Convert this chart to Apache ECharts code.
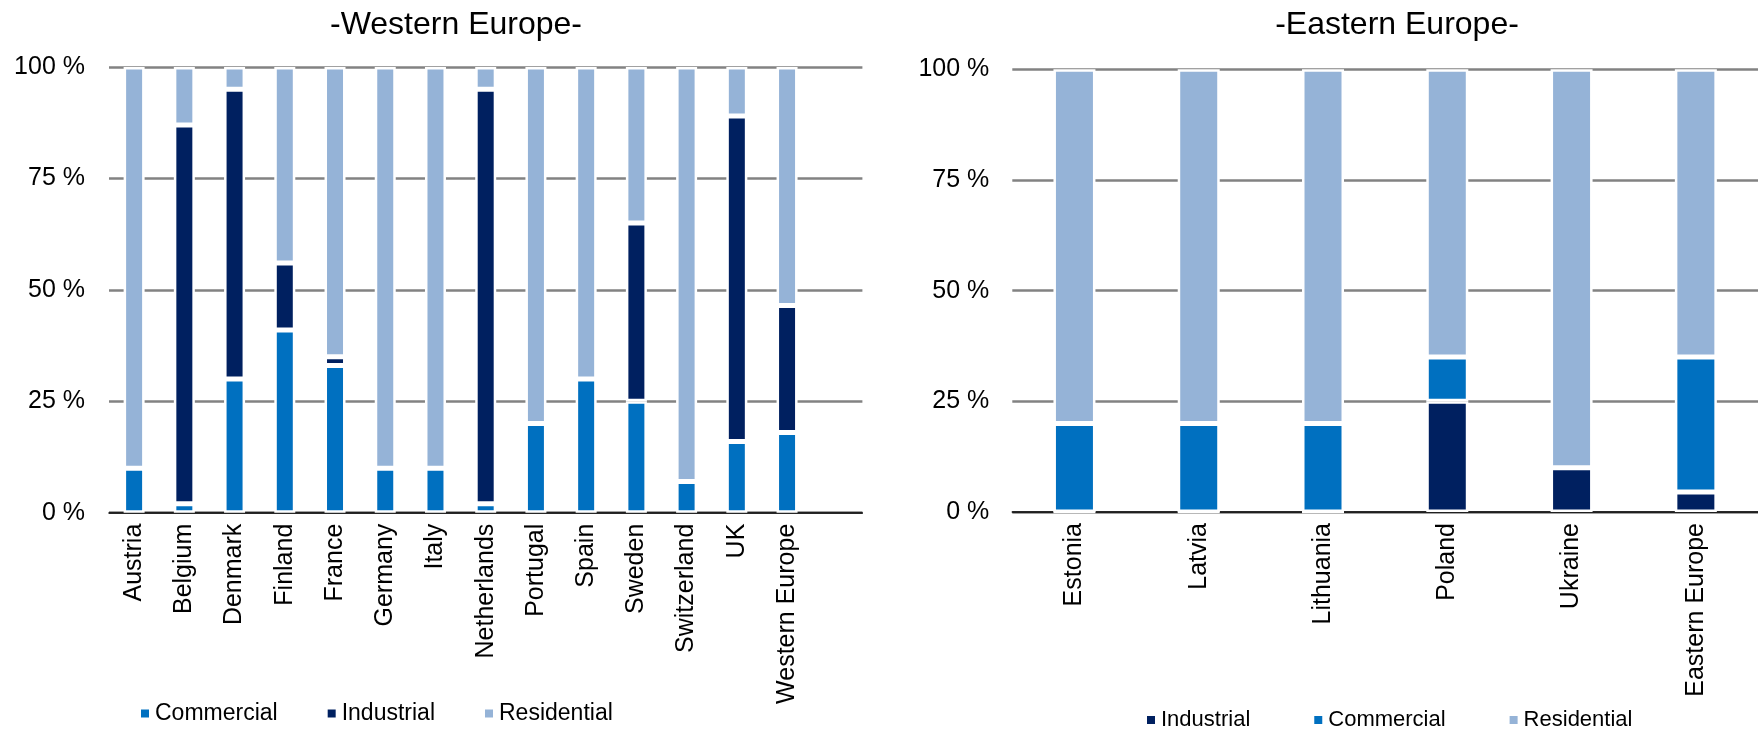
<!DOCTYPE html>
<html>
<head>
<meta charset="utf-8">
<script src="https://cdn.jsdelivr.net/npm/echarts@6/dist/echarts.min.js"></script>
<style>
html,body{margin:0;padding:0;background:#fff;}
#chart{width:1758px;height:730px;}
</style>
</head>
<body>
<div id="chart"></div>
<script>
// ---- Data ----
const westCategories = ['Austria','Belgium','Denmark','Finland','France','Germany','Italy','Netherlands','Portugal','Spain','Sweden','Switzerland','UK','Western Europe',''];
const westCommercial  = [10, 2, 30, 41, 33, 10, 10, 2, 20, 30, 25, 7, 16, 18, null];
const westIndustrial  = [0, 85, 65, 15, 2, 0, 0, 93, 0, 0, 40, 0, 73, 28.5, null];
const westResidential = [90, 13, 5, 44, 65, 90, 90, 5, 80, 70, 35, 93, 11, 53.5, null];

const eastCategories = ['Estonia','Latvia','Lithuania','Poland','Ukraine','Eastern Europe'];
const eastIndustrial  = [0, 0, 0, 25, 10, 4.5];
const eastCommercial  = [20, 20, 20, 10, 0, 30.5];
const eastResidential = [80, 80, 80, 65, 90, 65];

const yTicks = [0, 25, 50, 75, 100];
const westTitle = '-Western Europe-';
const eastTitle = '-Eastern Europe-';

// ---- Styles ----
const C_COM = '#0070C0', C_IND = '#002060', C_RES = '#95B3D7';
const FONT = "'Liberation Sans', Arial, sans-serif";

const chart = echarts.init(document.getElementById('chart'), null, {renderer:'canvas'});

function yAxis(gridIndex, margin){
  return {
    type:'value', gridIndex, min:yTicks[0], max:yTicks[yTicks.length-1], interval:25,
    axisLine:{show:false}, axisTick:{show:false},
    axisLabel:{formatter:'{value} %', color:'#000', fontSize:25, fontFamily:FONT, margin},
    splitLine:{show:true, lineStyle:{color:'#828282', width:2.5}}
  };
}
function xAxis(gridIndex, data){
  return {
    type:'category', gridIndex, data,
    axisLine:{show:true, lineStyle:{color:'#000', width:1.5}},
    axisTick:{show:false},
    axisLabel:{rotate:90, color:'#000', fontSize:25, fontFamily:FONT, margin:11, interval:0}
  };
}
function bar(name, data, xi, stack, color, width){
  return {
    name, type:'bar', data, xAxisIndex:xi, yAxisIndex:xi, stack,
    barWidth:width, itemStyle:{color, borderColor:'#fff', borderWidth:2.5},
    emphasis:{disabled:true}, animation:false
  };
}

chart.setOption({
  animation:false,
  title:[
    {text:westTitle, left:451, top:4, textAlign:'center', textStyle:{fontSize:32, fontWeight:'normal', color:'#000', fontFamily:FONT}},
    {text:eastTitle, left:1392, top:4, textAlign:'center', textStyle:{fontSize:32, fontWeight:'normal', color:'#000', fontFamily:FONT}}
  ],
  legend:[
    {data:['Commercial','Industrial','Residential'], left:139, top:702, padding:0, icon:'rect', itemWidth:10, itemHeight:10, itemGap:48,
     textStyle:{fontSize:23, color:'#000', fontFamily:FONT}, selectedMode:false},
    {data:['Industrial','Commercial','Residential'], left:1145, top:709, padding:0, icon:'rect', itemWidth:10, itemHeight:10, itemGap:62,
     textStyle:{fontSize:22, color:'#000', fontFamily:FONT}, selectedMode:false}
  ],
  grid:[
    {left:109, right:1758-862.4, top:67, bottom:730-512.7},
    {left:1012.3, right:-7.5, top:69.3, bottom:730-512}
  ],
  xAxis:[xAxis(0, westCategories), xAxis(1, eastCategories)],
  yAxis:[yAxis(0, 24), yAxis(1, 23)],
  series:[
    bar('Commercial', westCommercial, 0, 'w', C_COM, 21),
    bar('Industrial', westIndustrial, 0, 'w', C_IND, 21),
    bar('Residential', westResidential, 0, 'w', C_RES, 21),
    bar('Industrial', eastIndustrial, 1, 'e', C_IND, 42),
    bar('Commercial', eastCommercial, 1, 'e', C_COM, 42),
    bar('Residential', eastResidential, 1, 'e', C_RES, 42)
  ]
});
</script>
</body>
</html>
